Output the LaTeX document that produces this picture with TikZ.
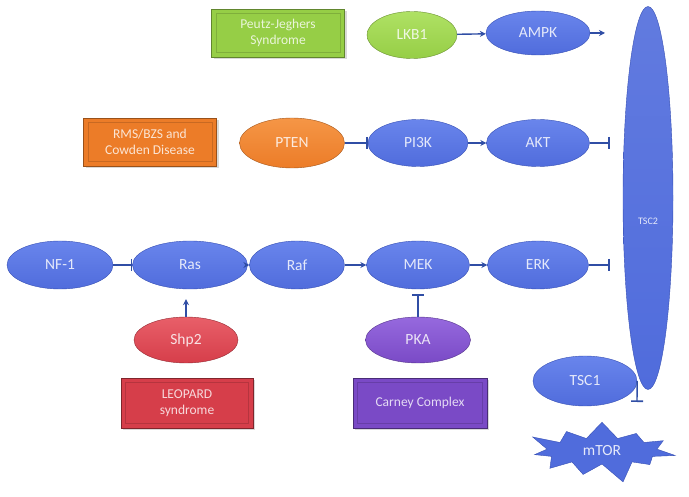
\documentclass[tikz,border=0pt]{standalone}
\usepackage{fontspec}
\setmainfont{Carlito}
\usepackage{tikz}
\usetikzlibrary{shapes.geometric,shapes.symbols,arrows.meta,shadows}
\usepackage{xcolor}

\definecolor{gblue}{RGB}{80,108,220}
\definecolor{gblueTop}{RGB}{105,133,236}
\definecolor{gblueDk}{RGB}{55,80,180}
\definecolor{ggreen}{RGB}{150,206,70}
\definecolor{ggreenTop}{RGB}{175,225,100}
\definecolor{gorange}{RGB}{236,124,40}
\definecolor{gorangeTop}{RGB}{245,150,70}
\definecolor{gred}{RGB}{214,62,74}
\definecolor{gredTop}{RGB}{232,95,105}
\definecolor{gpurple}{RGB}{122,74,198}
\definecolor{gpurpleTop}{RGB}{150,105,222}
\definecolor{arrowblue}{RGB}{48,78,165}

\begin{document}
\begin{tikzpicture}[x=1pt, y=-1pt]
						% Define styles for genes, diseases and links
						\tikzstyle{gene}=[ellipse, draw, inner sep=0pt, minimum width=104pt, minimum height=47pt, font=\fontsize{15.5}{17}\selectfont]
						\tikzstyle{bluegene}=[gene, top color=gblueTop, bottom color=gblue, draw=gblueDk, text=white!85!gblue]
						\tikzstyle{greengene}=[gene, top color=ggreenTop, bottom color=ggreen, draw=ggreen!70!black, text=white!85!ggreen]
						\tikzstyle{orangegene}=[gene, top color=gorangeTop, bottom color=gorange, draw=gorange!70!black, text=white!85!gorange]
						\tikzstyle{redgene}=[gene, top color=gredTop, bottom color=gred, draw=gred!70!black, text=white!85!gred]
						\tikzstyle{purplegene}=[gene, top color=gpurpleTop, bottom color=gpurple, draw=gpurple!70!black, text=white!85!gpurple]
						\tikzstyle{disease}=[rectangle, inner sep=0pt, minimum width=133pt, minimum height=48pt, align=center, font=\fontsize{13.5}{15.5}\selectfont, line width=0.8pt, drop shadow={opacity=0.3, shadow xshift=2pt, shadow yshift=-2pt}, path picture={\draw[black, draw opacity=0.15, line width=0.7pt] ([shift={(4.5pt,4.5pt)}]path picture bounding box.south west) rectangle ([shift={(-4.5pt,-4.5pt)}]path picture bounding box.north east);}]
						\tikzstyle{act}=[arrowblue, line width=1.4pt, -{Stealth[length=6pt, width=6pt]}]
						\tikzstyle{inh}=[arrowblue, line width=1.4pt, -{Bar[width=12pt, line width=1.6pt]}]
						
						\useasboundingbox (0,0) rectangle (689,497);
						
						% top row
						\node[disease, fill=ggreen, draw=ggreen!65!black, text=white!80!ggreen] (pjs) at (278,33) {Peutz-Jeghers\\Syndrome};
						\node[greengene, minimum width=90pt] (lkb1) at (412,35) {LKB1};
						\node[bluegene, minimum height=44pt] (ampk) at (538,33) {AMPK};
						\coordinate (ampkout) at (605,33);
						
						% TSC2
						\node[bluegene, top color=gblue!90!white, bottom color=gblue, minimum width=50pt, minimum height=383pt] (tsc2) at (648,198) {};
						\node[text=white!85!gblue, font=\fontsize{10}{12}\selectfont] (tsc2txt) at (648,221) {TSC2};
						
						% second row
						\node[disease, fill=gorange, draw=gorange!65!black, text=white!80!gorange] (rms) at (150,142) {RMS/BZS and\\Cowden Disease};
						\node[orangegene, minimum width=105pt, minimum height=50pt] (pten) at (292,143) {PTEN};
						\node[bluegene, minimum width=100pt] (pi3k) at (418,143) {PI3K};
						\node[bluegene, minimum width=103pt] (akt) at (538,143) {AKT};
						\coordinate (aktout) at (610,143);
						
						% third row
						\node[bluegene, minimum width=106pt, minimum height=48pt] (nf1) at (60,265) {NF-1};
						\node[bluegene, minimum width=115pt, minimum height=48pt] (ras) at (190,265) {Ras};
						\node[bluegene, minimum width=95pt, minimum height=48pt] (raf) at (297,265) {Raf};
						\node[bluegene, minimum width=103pt, minimum height=48pt] (mek) at (418,265) {MEK};
						\node[bluegene, minimum width=101pt, minimum height=48pt] (erk) at (538,265) {ERK};
						\coordinate (erkout) at (610,265);
						
						% modifiers and diseases below
						\node[redgene, minimum height=46pt] (shp2) at (186,340) {Shp2};
						\node[purplegene, minimum width=105pt, minimum height=46pt] (pka) at (418,340) {PKA};
						\node[disease, minimum width=132pt, minimum height=50pt, fill=gred, draw=gred!60!black, text=white!80!gred] (leopard) at (187,403) {LEOPARD\\syndrome};
						\node[disease, minimum width=134pt, minimum height=50pt, fill=gpurple, draw=gpurple!60!black, text=white!80!gpurple] (carney) at (420,403) {Carney Complex};
						
						% TSC1 and mTOR
						\node[bluegene, minimum height=50pt] (tsc1) at (585,381) {TSC1};
						\coordinate (mtorin) at (637,402);
						\node[starburst, starburst points=11, starburst point height=22pt, fill=gblue, draw=gblueDk, inner sep=0pt, minimum width=155pt, minimum height=70pt, text=white!85!gblue, font=\fontsize{15.5}{17}\selectfont] (mtor) at (602,451) {mTOR};
						
						% links
						\draw[act] (lkb1) -- (ampk);
						\draw[act] (ampk) -- (ampkout);
						\draw[inh] (pten) -- (pi3k);
						\draw[act] (pi3k) -- (akt);
						\draw[inh] (akt) -- (aktout);
						\draw[inh] (nf1) -- (ras);
						\draw[act] (ras) -- (raf);
						\draw[act] (raf) -- (mek);
						\draw[act] (mek) -- (erk);
						\draw[inh] (erk) -- (erkout);
						\draw[act, shorten >=10pt] (shp2.north) -- (shp2.north |- ras.south);
						\draw[inh, shorten >=5pt] (pka.north) -- (pka.north |- mek.south);
						\draw[inh] (tsc1.east) -- (mtorin);
					\end{tikzpicture}
\end{document}
